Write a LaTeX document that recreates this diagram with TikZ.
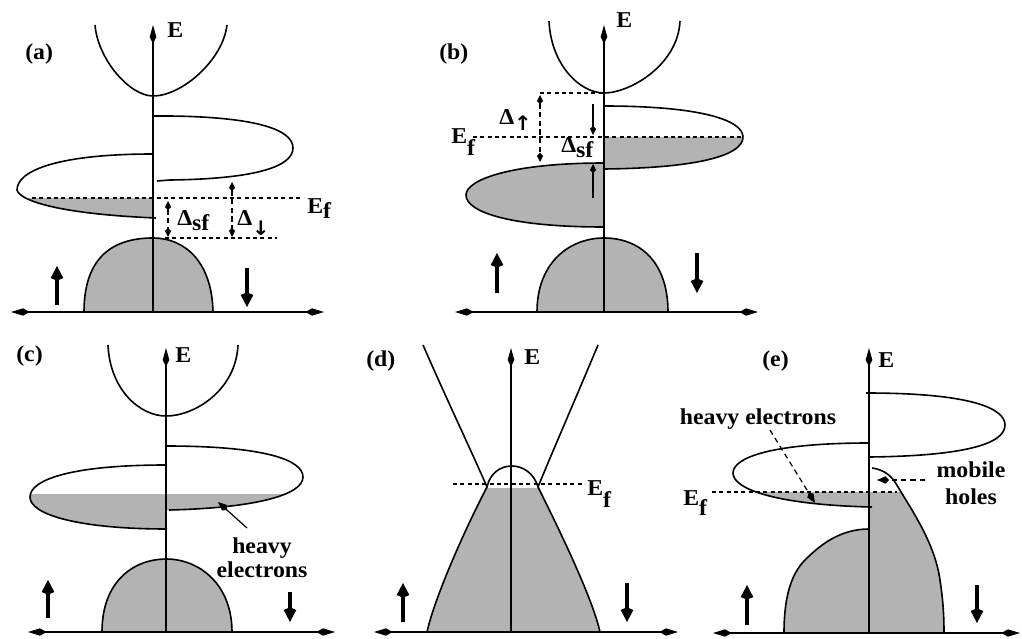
\documentclass[tikz,border=0pt]{standalone}
\usepackage{fontspec}
\setmainfont{Liberation Serif}
\newfontfamily\arrowfont{DejaVu Sans}
\usetikzlibrary{arrows.meta}
\definecolor{BandGray}{RGB}{179,179,179}
\newcommand{\Fermi}[1]{E\raisebox{#1}{f}}

\begin{document}
\begin{tikzpicture}[x=0.75pt, y=-0.75pt,
    band/.style={line width=1.2pt},
    bandfill/.style={fill=BandGray},
    eaxis/.style={line width=1.1pt, -{Kite[length=14pt,width=5pt,inset=5pt]}},
    kaxis/.style={line width=1.1pt, {Kite[length=14pt,width=5.5pt,inset=5pt]}-{Kite[length=14pt,width=5.5pt,inset=5pt]}},
    efline/.style={line width=0.9pt, dash pattern=on 3pt off 2.5pt},
    gaparrow/.style={line width=0.9pt, dash pattern=on 4pt off 2.5pt, {Kite[length=7pt,width=4.5pt,inset=2.5pt]}-{Kite[length=7pt,width=4.5pt,inset=2.5pt]}},
    sfarrow/.style={line width=0.9pt, -{Kite[length=7pt,width=4.5pt,inset=2.5pt]}},
    spinarrow/.style={line width=3pt, -{Kite[length=11pt,width=9.5pt,inset=2pt]}},
    pointer/.style={line width=0.9pt, -{Kite[length=9pt,width=5.5pt,inset=2.5pt]}},
    ptrdash/.style={pointer, dash pattern=on 4pt off 3pt},
    lbl/.style={font=\bfseries\fontsize{17}{18}\selectfont, inner sep=0pt, xscale=1.05},
  ]
  \useasboundingbox (0,0) rectangle (1022,639);

  % ---------------- (a)
  \begin{scope}
    \clip (0,198) rectangle (154,240);
    \fill[bandfill] (153,154) .. controls (60,154) and (17,170) .. (17,190) .. controls (20,201) and (60,214) .. (156,218) -- (153,218) -- cycle;
  \end{scope}
  \draw[band] (95,25) .. controls (98,60) and (130,96) .. (153,96) .. controls (182,96) and (223,60) .. (227,25);
  \draw[band] (153,116) -- (170,116) .. controls (250,117) and (293,128) .. (293,148) .. controls (293,168) and (250,179) .. (170,180) -- (157,181);
  \draw[band] (153,154) .. controls (60,154) and (17,170) .. (17,190) .. controls (20,201) and (60,214) .. (156,218);
  \draw[band, bandfill] (84,312) .. controls (84,255) and (115,238) .. (153,238) .. controls (185,238) and (212,262) .. (213,312);
  \draw[efline] (32,198) -- (300,198);
  \draw[efline] (165,238) -- (277,238);
  \draw[gaparrow] (168,201) -- (168,237);
  \draw[gaparrow] (232,182) -- (232,237);
  \draw[eaxis] (153,312) -- (153,25);
  \draw[kaxis] (11,312) -- (324,312);
  \draw[spinarrow] (57,305) -- (57,266);
  \draw[spinarrow] (247,268) -- (247,307);
  \node[lbl, anchor=base west] (labela) at (25,59) {(a)};
  \node[lbl, anchor=base west] (Ea) at (167,37) {E};
  \node[lbl, anchor=base west] (Efa) at (307,213) {\Fermi{-4pt}};
  \node[lbl, anchor=base west] (dsfa) at (177,225) {Δ\raisebox{-4pt}{sf}};
  \node[lbl, anchor=base west] (ddowna) at (237,225) {Δ\raisebox{-8pt}{\arrowfont\fontsize{15}{15}\selectfont ↓}};

  % ---------------- (b)
  \begin{scope}
    \clip (604,137) rectangle (760,175);
    \fill[bandfill] (604,106) .. controls (700,106) and (743,120) .. (743,137) .. controls (743,155) and (700,168) .. (604,169) -- cycle;
  \end{scope}
  \draw[band] (549,21) .. controls (551,65) and (580,93) .. (604,93) .. controls (630,93) and (678,65) .. (680,21);
  \draw[band] (604,106) .. controls (700,106) and (743,120) .. (743,137) .. controls (743,155) and (700,168) .. (604,169);
  \draw[band, bandfill] (604,163) .. controls (510,163) and (466,180) .. (466,195) .. controls (466,212) and (510,227) .. (604,227);
  \draw[band, bandfill] (537,312) .. controls (537,262) and (570,238) .. (604,238) .. controls (640,238) and (668,262) .. (668,312);
  \draw[efline] (473,137) -- (743,137);
  \draw[efline] (540,93) -- (604,93);
  \draw[gaparrow] (540,95) -- (540,162);
  \draw[sfarrow] (593,104) -- (593,135);
  \draw[sfarrow] (593,198) -- (593,164);
  \draw[eaxis] (604,312) -- (604,25);
  \draw[kaxis] (455,312) -- (758,312);
  \draw[spinarrow] (497,293) -- (497,253);
  \draw[spinarrow] (697,253) -- (697,293);
  \node[lbl, anchor=base west] (labelb) at (439,59) {(b)};
  \node[lbl, anchor=base west] (Eb) at (616,27) {E};
  \node[lbl, anchor=base west] (Efb) at (451,143) {\Fermi{-9pt}};
  \node[lbl, anchor=base west] (dupb) at (499,124) {Δ\raisebox{-5pt}{\arrowfont\fontsize{15}{15}\selectfont ↑}};
  \node[lbl, anchor=base west] (dsfb) at (561,152) {Δ\raisebox{-4pt}{sf}};

  % ---------------- (c)
  \begin{scope}
    \clip (166,494) rectangle (310,520);
    \fill[bandfill] (166,446) .. controls (265,446) and (303,460) .. (303,477) .. controls (303,495) and (255,508) .. (169,510) -- (166,510) -- cycle;
  \end{scope}
  \begin{scope}
    \clip (20,494) rectangle (166,535);
    \fill[bandfill] (166,465) .. controls (70,465) and (30,480) .. (30,497) .. controls (30,515) and (80,529) .. (167,529) -- (166,529) -- cycle;
  \end{scope}
  \draw[band] (108,345) .. controls (110,390) and (140,416) .. (166,416) .. controls (195,416) and (236,390) .. (238,345);
  \draw[band] (166,446) .. controls (265,446) and (303,460) .. (303,477) .. controls (303,495) and (255,508) .. (169,510);
  \draw[band] (166,465) .. controls (70,465) and (30,480) .. (30,497) .. controls (30,515) and (80,529) .. (167,529);
  \draw[band, bandfill] (102,632) .. controls (102,580) and (135,559) .. (166,559) .. controls (200,559) and (232,585) .. (232,632);
  \draw[eaxis] (166,632) -- (166,348);
  \draw[kaxis] (28,632) -- (335,632);
  \draw[spinarrow] (48,618) -- (48,580);
  \draw[spinarrow] (290,592) -- (290,622);
  \node[lbl, anchor=base west] (labelc) at (16,361) {(c)};
  \node[lbl, anchor=base west] (Ec) at (175,362) {E};
  \node[lbl, anchor=north, align=center] (heavyc) at (262,538) {heavy\\electrons};
  \coordinate (hctail) at (247,528);
  \coordinate (hctip) at (218,502);
  \draw[pointer] (hctail) -- (hctip);

  % ---------------- (d)
  \begin{scope}
    \clip (380,488) rectangle (620,640);
    \fill[bandfill] (427,632) .. controls (434,600) and (462,535) .. (487,487) .. controls (493,459) and (530,459) .. (538,487) .. controls (562,535) and (593,600) .. (600,632) -- cycle;
  \end{scope}
  \draw[band] (427,632) .. controls (434,600) and (462,535) .. (487,487) .. controls (493,459) and (530,459) .. (538,487) .. controls (562,535) and (593,600) .. (600,632);
  \draw[band] (423,345) .. controls (447,400) and (470,448) .. (487,487);
  \draw[band] (598,345) .. controls (575,400) and (554,448) .. (538,487);
  \draw[efline] (453,484) -- (585,484);
  \draw[eaxis] (511,632) -- (511,348);
  \draw[kaxis] (374,632) -- (678,632);
  \draw[spinarrow] (403,622) -- (403,583);
  \draw[spinarrow] (627,583) -- (627,622);
  \node[lbl, anchor=base west] (labeld) at (366,366) {(d)};
  \node[lbl, anchor=base west] (Ed) at (524,364) {E};
  \node[lbl, anchor=base west] (Efd) at (587,495) {\Fermi{-9.5pt}};

  % ---------------- (e)
  \begin{scope}
    \clip (869,492) rectangle (960,640);
    \fill[bandfill] (869,468) -- (872,468) .. controls (885,470) and (892,476) .. (898,487) .. controls (915,515) and (935,545) .. (940,580) .. controls (943,600) and (944,615) .. (944,633) -- (869,633) -- cycle;
  \end{scope}
  \begin{scope}
    \clip (720,492) rectangle (869,515);
    \fill[bandfill] (869,443) .. controls (770,443) and (733,458) .. (733,473) .. controls (733,490) and (780,505) .. (872,507) -- (869,507) -- cycle;
  \end{scope}
  \draw[band] (866,393) .. controls (970,393) and (1005,408) .. (1005,425) .. controls (1005,445) and (960,456) .. (869,457);
  \draw[band] (869,443) .. controls (770,443) and (733,458) .. (733,473) .. controls (733,490) and (780,505) .. (872,507);
  \draw[band] (872,468) .. controls (885,470) and (892,476) .. (898,487) .. controls (915,515) and (935,545) .. (940,580) .. controls (943,600) and (944,615) .. (944,633);
  \draw[band, bandfill] (869,529) .. controls (840,529) and (820,545) .. (805,560) .. controls (790,575) and (784,600) .. (784,633) -- (869,633) -- cycle;
  \draw[efline] (712,492) -- (897,492);
  \draw[eaxis] (869,633) -- (869,348);
  \draw[kaxis] (713,633) -- (1020,633);
  \draw[spinarrow] (747,625) -- (747,585);
  \draw[spinarrow] (977,585) -- (977,623);
  \node[lbl, anchor=base west] (labele) at (762,366) {(e)};
  \node[lbl, anchor=base west] (Ee) at (878,367) {E};
  \node[lbl, anchor=base west] (Efe) at (683,505) {\Fermi{-7.5pt}};
  \node[lbl, anchor=base] (heavye) at (758,424) {heavy electrons};
  \node[lbl, anchor=north, align=center, font=\bfseries\fontsize{17}{20}\selectfont] (mobile) at (971,462) {mobile\\holes};
  \coordinate (hetail) at (770,430);
  \coordinate (hetip) at (815,503);
  \coordinate (mhtail) at (925,480);
  \coordinate (mhtip) at (877,480);
  \draw[ptrdash] (hetail) -- (hetip);
  \draw[ptrdash] (mhtail) -- (mhtip);
\end{tikzpicture}
\end{document}
